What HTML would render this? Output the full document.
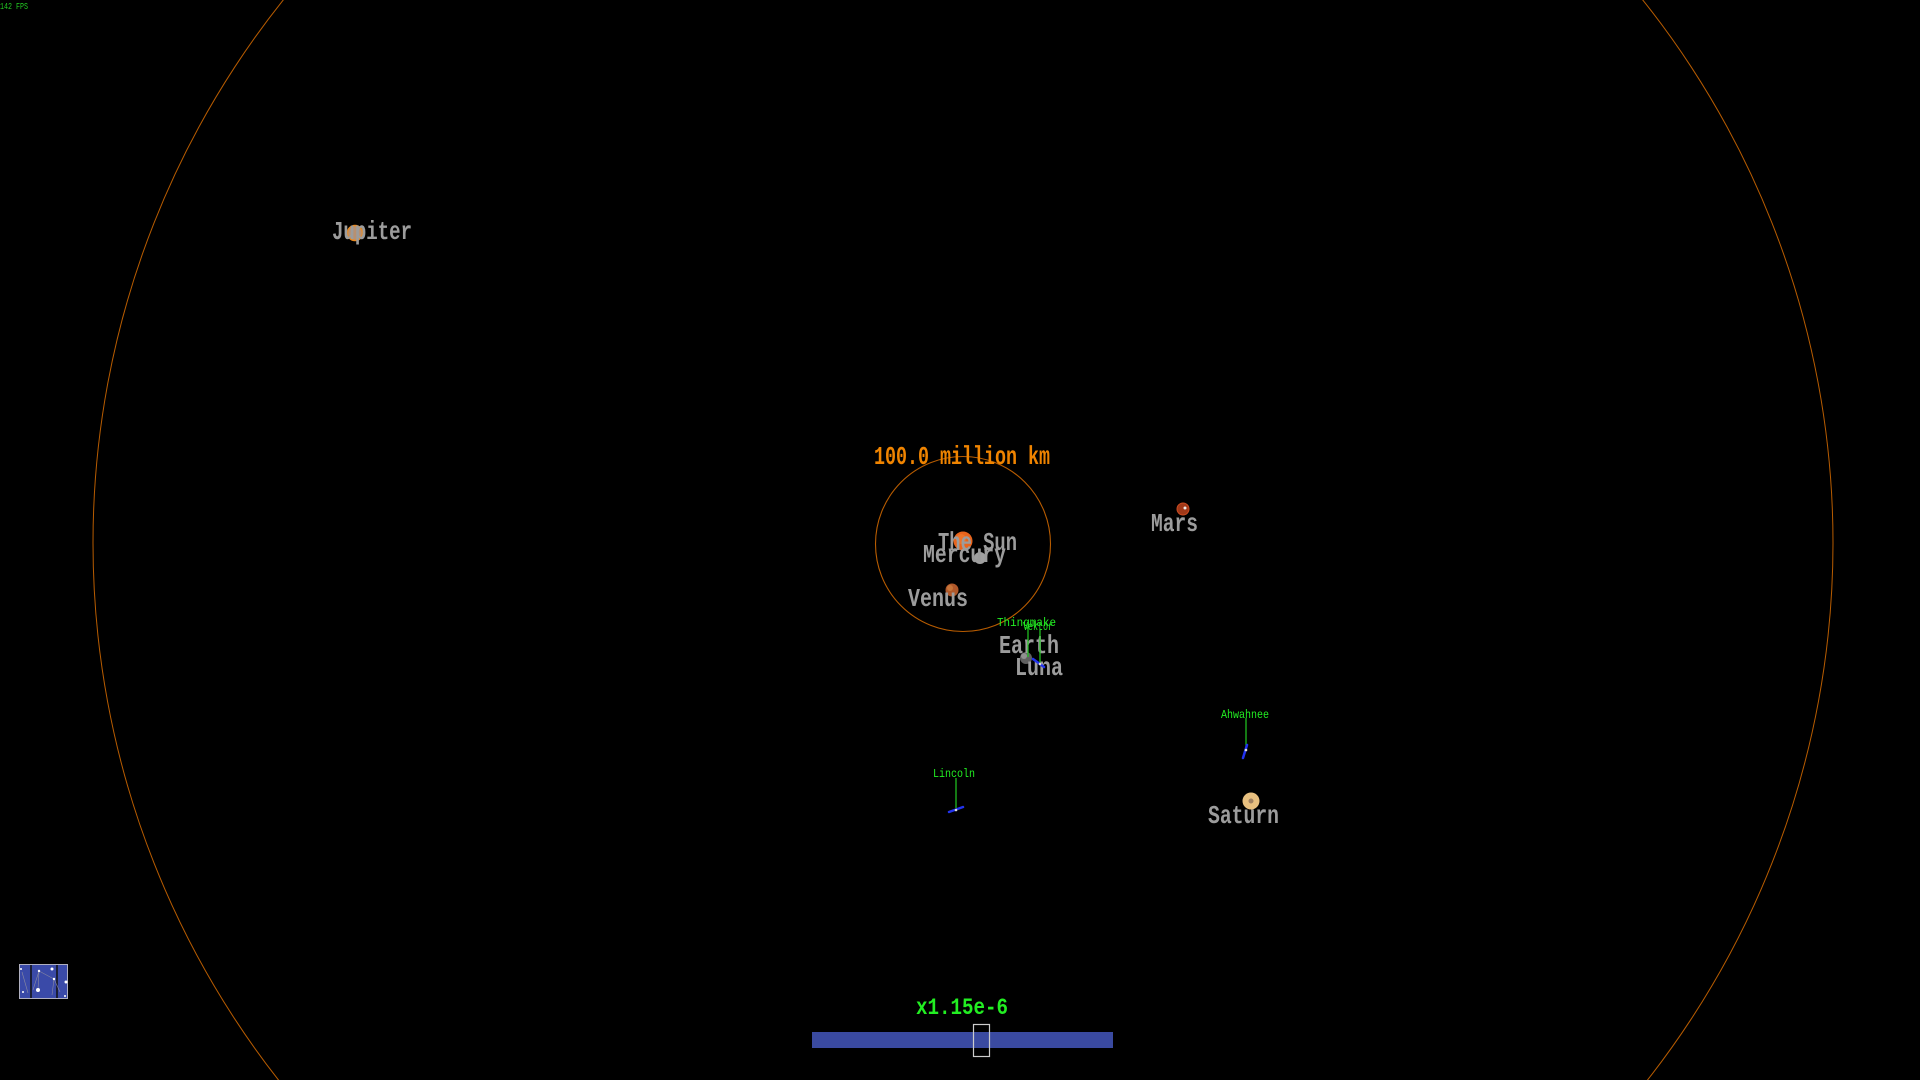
<!DOCTYPE html>
<html><head><meta charset="utf-8"><style>
html,body{margin:0;padding:0;background:#000;width:1920px;height:1080px;overflow:hidden}
svg{display:block;position:absolute;left:0;top:0}
text{font-family:"Liberation Mono",monospace}
</style></head><body>
<svg width="1920" height="1080" viewBox="0 0 1920 1080" xmlns="http://www.w3.org/2000/svg">
<rect width="1920" height="1080" fill="#000"/>
<!-- orbits -->
<circle cx="963" cy="543" r="870" fill="none" stroke="#b85c00" stroke-width="1"/>
<circle cx="963" cy="544" r="87.5" fill="none" stroke="#b85c00" stroke-width="1.1"/>

<!-- bodies -->
<circle cx="963" cy="541" r="9.5" fill="#e8641c"/>
<circle cx="961" cy="539" r="5" fill="#f07a30" opacity="0.7"/>
<circle cx="980" cy="558" r="6" fill="#a0a0a0"/>
<circle cx="952" cy="590" r="6.5" fill="#b0582a"/>
<circle cx="950" cy="588" r="3" fill="#d08040" opacity="0.7"/>
<circle cx="1026" cy="658" r="6" fill="#606060"/>
<circle cx="1024" cy="656" r="3" fill="#909090"/>
<circle cx="355" cy="233" r="7.5" fill="#b89070" stroke="#e88a20" stroke-width="1.5"/>
<circle cx="1183" cy="509" r="6" fill="#a03818" stroke="#c84a20" stroke-width="1"/>
<circle cx="1185" cy="508" r="1.5" fill="#eee"/>
<circle cx="1251" cy="801" r="8.5" fill="#e8c080"/>
<circle cx="1251" cy="801" r="2.5" fill="#a08060"/>

<!-- gray labels -->
<g fill="#9c9c9c" font-size="26" font-weight="bold">
<text x="332" y="239" textLength="80" lengthAdjust="spacingAndGlyphs">Jupiter</text>
<text x="938" y="550" textLength="79" lengthAdjust="spacingAndGlyphs">The Sun</text>
<text x="923" y="562" textLength="83" lengthAdjust="spacingAndGlyphs">Mercury</text>
<text x="908" y="606" textLength="60" lengthAdjust="spacingAndGlyphs">Venus</text>
<text x="999" y="653" textLength="60" lengthAdjust="spacingAndGlyphs">Earth</text>
<text x="1015" y="675" textLength="48" lengthAdjust="spacingAndGlyphs">Luna</text>
<text x="1151" y="531" textLength="47" lengthAdjust="spacingAndGlyphs">Mars</text>
<text x="1208" y="823" textLength="71" lengthAdjust="spacingAndGlyphs">Saturn</text>
</g>

<!-- scale label -->
<text x="874" y="464" font-size="26" font-weight="bold" fill="#f08400" textLength="176" lengthAdjust="spacingAndGlyphs">100.0 million km</text>

<!-- ships + labels -->
<g stroke="#22cc22" stroke-width="1.2">
<line x1="1028" y1="626" x2="1028" y2="657"/>
<line x1="1040" y1="629" x2="1040" y2="663"/>
<line x1="1246" y1="718" x2="1246" y2="748"/>
<line x1="956" y1="778" x2="956" y2="808"/>
</g>
<g stroke="#2233ee" stroke-width="2.5" stroke-linecap="round">
<line x1="1033" y1="659" x2="1044" y2="667"/>
<line x1="1247" y1="745" x2="1243" y2="758"/>
<line x1="949" y1="812" x2="963" y2="807"/>
</g>
<g fill="#ddd">
<circle cx="1040" cy="664" r="1.3"/>
<circle cx="1246" cy="750" r="1.3"/>
<circle cx="956" cy="810" r="1.3"/>
</g>
<g fill="#22ee22" font-size="12">
<text x="997" y="626" textLength="59" lengthAdjust="spacingAndGlyphs">Thingmake</text>
<text x="1023" y="630" textLength="30" lengthAdjust="spacingAndGlyphs">Vektor</text>
<text x="1221" y="718" textLength="48" lengthAdjust="spacingAndGlyphs">Ahwahnee</text>
<text x="933" y="777" textLength="42" lengthAdjust="spacingAndGlyphs">Lincoln</text>
</g>
<text x="0" y="9" font-size="9" fill="#22cc22" textLength="28" lengthAdjust="spacingAndGlyphs">142 FPS</text>

<!-- time control -->
<text x="916" y="1014" font-size="23" font-weight="bold" fill="#22ee22" textLength="92" lengthAdjust="spacingAndGlyphs">x1.15e-6</text>
<rect x="812" y="1032" width="301" height="16" fill="#3a4aa0"/>
<rect x="973.5" y="1024.5" width="16" height="32" fill="none" stroke="#cccccc" stroke-width="1.2"/>

<!-- bottom-left icon -->
<rect x="19.5" y="964.5" width="48" height="34" fill="#3a4aa8" stroke="#b0b0c0" stroke-width="1"/>
<line x1="31" y1="965" x2="31" y2="998" stroke="#111" stroke-width="1.5"/>
<line x1="57" y1="965" x2="57" y2="998" stroke="#111" stroke-width="1.5"/>
<g stroke="#8a8aa0" stroke-width="0.6" fill="none">
<polyline points="33,990 39,971 54,979 52,995"/>
<line x1="39" y1="971" x2="38" y2="990"/>
<line x1="54" y1="979" x2="60" y2="992"/>
<line x1="22" y1="972" x2="28" y2="993"/>
</g>
<g fill="#fff">
<circle cx="39" cy="971" r="1.2"/>
<circle cx="38" cy="990" r="2"/>
<circle cx="54" cy="979" r="1.2"/>
<circle cx="23" cy="992" r="1"/>
<circle cx="52" cy="969" r="1.5"/>
<circle cx="65" cy="996" r="1"/>
<circle cx="66" cy="982" r="1.5"/>
<circle cx="21" cy="969" r="1"/>
</g>
</svg>
</body></html>
